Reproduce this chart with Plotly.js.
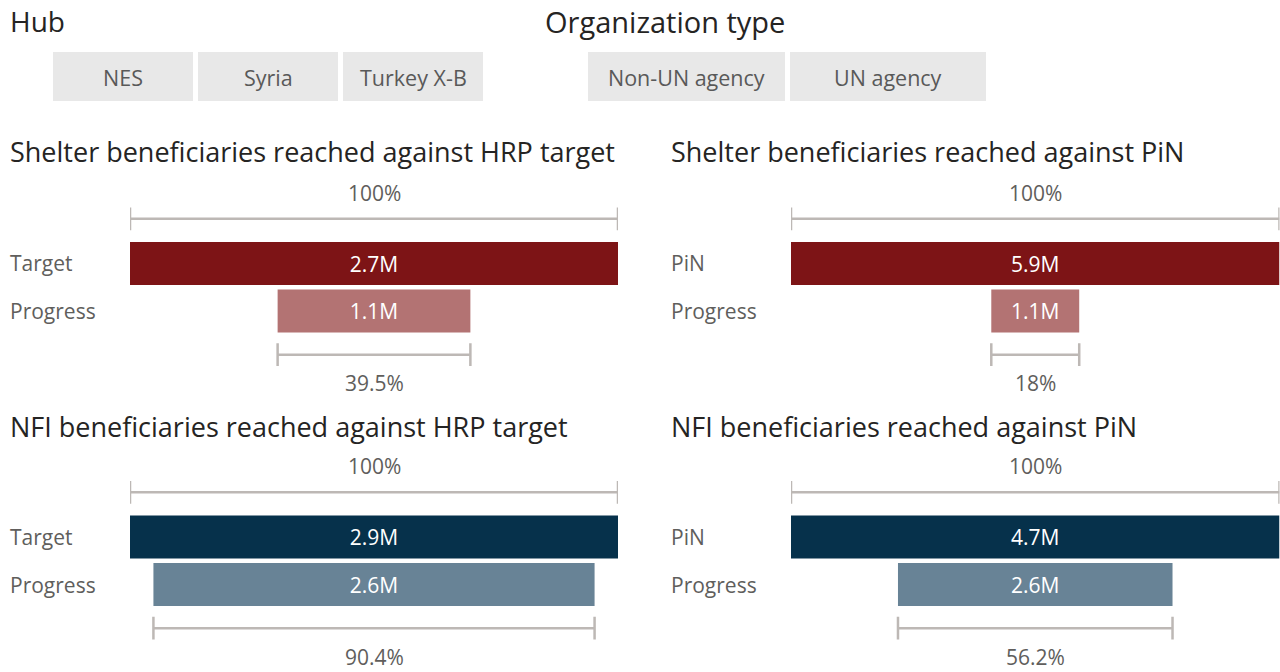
<!DOCTYPE html>
<html>
<head>
<meta charset="utf-8">
<script src="https://cdn.plot.ly/plotly-3.0.1.min.js"></script>
<style>html,body{margin:0;padding:0;background:#fff;}#chart{width:1280px;height:672px;}</style>
</head>
<body>
<div id="chart"></div>
<script>
// ---- data ----
const hubs = ['NES', 'Syria', 'Turkey X-B'];
const orgTypes = ['Non-UN agency', 'UN agency'];
const panelTitles = [
  'Shelter beneficiaries reached against HRP target',
  'Shelter beneficiaries reached against PiN',
  'NFI beneficiaries reached against HRP target',
  'NFI beneficiaries reached against PiN'
];
const referenceLabels = ['Target', 'PiN', 'Target', 'PiN'];
const referenceValues = [2.7, 5.9, 2.9, 4.7];   // millions
const progressValues = [1.1, 1.1, 2.6, 2.6];    // millions
const progressPct = [39.5, 18, 90.4, 56.2];     // % of reference
const progressLabel = 'Progress';

// ---- styling ----
const FONT = 'Open Sans, Noto Sans, sans-serif';
const W = 1280, H = 672;
const px = x => x / W;
const py = y => 1 - y / H;
const refColors = ['#7D1416', '#7D1416', '#06314B', '#06314B'];
const progColors = ['#B37373', '#B37373', '#688396', '#688396'];
const bracketColor = '#BDB8B5';

// panel geometry (pixels)
const colX = [[130, 618], [791, 1279.5], [130, 618], [791, 1279.5]];
const rowCenter = [263.5, 263.5, 537, 537]; // centre of first bar
const step = 47.5;
const yMin = -1.75, yMax = 2.75;

const data = [];
const shapes = [];
const annotations = [];
const layout = {
  width: W, height: H,
  margin: {l: 0, r: 0, t: 0, b: 0},
  paper_bgcolor: '#fff', plot_bgcolor: 'rgba(0,0,0,0)',
  showlegend: false,
  barmode: 'overlay',
  font: {family: FONT, color: '#605E5C'},
  shapes: shapes,
  annotations: annotations
};

// slicer headers and buttons
annotations.push({xref: 'paper', yref: 'paper', x: px(8), y: py(21), xanchor: 'left', yanchor: 'middle',
  text: 'Hub', showarrow: false, font: {size: 28, color: '#252423', family: FONT}});
annotations.push({xref: 'paper', yref: 'paper', x: px(543), y: py(21), xanchor: 'left', yanchor: 'middle',
  text: 'Organization type', showarrow: false, font: {size: 29, color: '#252423', family: FONT}});
const hubBtn = [[53, 193], [198, 338], [343, 483]];
hubs.forEach((h, i) => {
  shapes.push({type: 'rect', xref: 'paper', yref: 'paper', x0: px(hubBtn[i][0]), x1: px(hubBtn[i][1]),
    y0: py(101), y1: py(52), fillcolor: '#E8E8E8', line: {width: 0}});
  annotations.push({xref: 'paper', yref: 'paper', x: px((hubBtn[i][0] + hubBtn[i][1]) / 2), y: py(77),
    xanchor: 'center', yanchor: 'middle', text: h, showarrow: false, font: {size: 21.5, color: '#595959', family: FONT}});
});
const orgBtn = [[588, 785], [790, 986]];
orgTypes.forEach((o, i) => {
  shapes.push({type: 'rect', xref: 'paper', yref: 'paper', x0: px(orgBtn[i][0]), x1: px(orgBtn[i][1]),
    y0: py(101), y1: py(52), fillcolor: '#E8E8E8', line: {width: 0}});
  annotations.push({xref: 'paper', yref: 'paper', x: px((orgBtn[i][0] + orgBtn[i][1]) / 2), y: py(77),
    xanchor: 'center', yanchor: 'middle', text: o, showarrow: false, font: {size: 21.5, color: '#595959', family: FONT}});
});

// panels
const titleY = [152, 152, 426, 426];
const titleX = [8, 669, 8, 669];
for (let i = 0; i < 4; i++) {
  const n = i + 1;
  const xa = 'x' + (n === 1 ? '' : n), ya = 'y' + (n === 1 ? '' : n);
  const xKey = 'xaxis' + (n === 1 ? '' : n), yKey = 'yaxis' + (n === 1 ? '' : n);
  const topPx = rowCenter[i] + yMin * step, botPx = rowCenter[i] + yMax * step;
  const cats = [referenceLabels[i], progressLabel];
  layout[xKey] = {domain: [px(colX[i][0]), px(colX[i][1])], range: [0, 100], visible: false,
    fixedrange: true, anchor: ya};
  layout[yKey] = {domain: [py(botPx), py(topPx)], range: [yMax, yMin], type: 'category',
    categoryarray: cats, visible: false, fixedrange: true, anchor: xa};

  const pct = progressPct[i];
  data.push({
    type: 'bar', orientation: 'h', xaxis: xa, yaxis: ya,
    y: cats,
    x: [100, pct],
    base: [0, (100 - pct) / 2],
    width: 0.905,
    marker: {color: [refColors[i], progColors[i]], line: {width: 0}},
    text: [referenceValues[i] + 'M', progressValues[i] + 'M'],
    textposition: 'inside', insidetextanchor: 'middle', constraintext: 'none',
    textfont: {size: 21, color: '#FFFFFF', family: FONT},
    hoverinfo: 'skip'
  });

  // title
  annotations.push({xref: 'paper', yref: 'paper', x: px(titleX[i]), y: py(titleY[i]), xanchor: 'left', yanchor: 'middle',
    text: panelTitles[i], showarrow: false, font: {size: 27, color: '#252423', family: FONT}});
  // category labels
  cats.forEach((c, k) => {
    annotations.push({xref: 'paper', yref: ya, x: px(titleX[i]), y: k, xanchor: 'left', yanchor: 'middle',
      text: c, showarrow: false, font: {size: 21, color: '#605E5C', family: FONT}});
  });

  // brackets
  const b0 = (100 - pct) / 2, b1 = (100 + pct) / 2;
  const brackets = [[0, 100, -0.94, '100%', -1.49], [b0, b1, 1.92, pct + '%', 2.52]];
  brackets.forEach(([a, b, yy, lab, ly]) => {
    const ln = {color: bracketColor, width: 2.5};
    shapes.push({type: 'line', xref: xa, yref: ya, x0: a, x1: b, y0: yy, y1: yy, line: ln});
    shapes.push({type: 'line', xref: xa, yref: ya, x0: a, x1: a, y0: yy - 0.24, y1: yy + 0.24, line: ln});
    shapes.push({type: 'line', xref: xa, yref: ya, x0: b, x1: b, y0: yy - 0.24, y1: yy + 0.24, line: ln});
    annotations.push({xref: xa, yref: ya, x: (a + b) / 2, y: ly, xanchor: 'center', yanchor: 'middle',
      text: lab, showarrow: false, font: {size: 21, color: '#605E5C', family: FONT}});
  });
}

Plotly.newPlot('chart', data, layout, {displayModeBar: false, staticPlot: true});
</script>
</body>
</html>
